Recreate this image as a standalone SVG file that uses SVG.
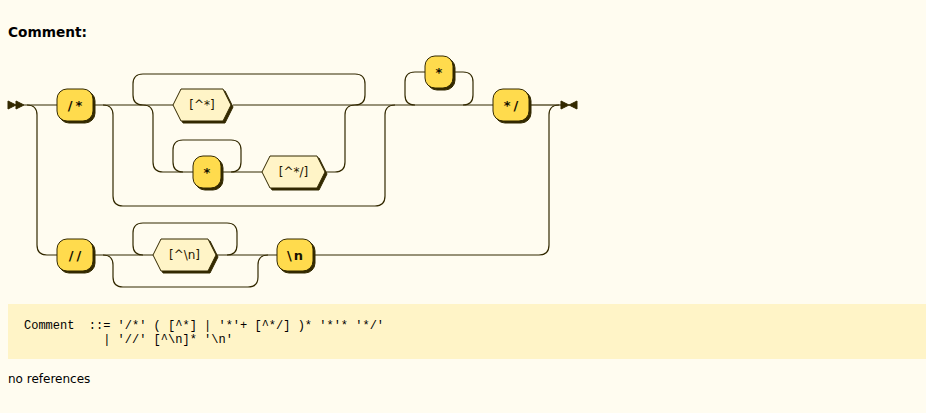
<svg xmlns="http://www.w3.org/2000/svg" width="926" height="413" viewBox="0 0 926 413">
  <style>
    .line { fill: none; stroke: #332900; stroke-width: 1.2; }
    .shadow { fill: #332900; stroke: #332900; stroke-width: 1; }
    .marker { fill: #332900; stroke: #332900; stroke-width: 1; }
    rect.terminal { fill: #FFDB4D; stroke: #332900; stroke-width: 1; }
    polygon.regexp { fill: #FFF4C7; stroke: #332900; stroke-width: 1; }
    text.terminal { font-family: "DejaVu Sans", Verdana, sans-serif; font-size: 13px; font-weight: bold; fill: #141000; text-anchor: middle; }
    text.regexp { font-family: "DejaVu Sans", Verdana, sans-serif; font-size: 12px; fill: #1F1800; text-anchor: middle; }
    .title { font-family: "DejaVu Sans", Verdana, sans-serif; font-size: 13.7px; font-weight: bold; fill: #000; }
    .ebnf { font-family: "Liberation Mono", "Courier New", monospace; font-size: 12px; fill: #000; white-space: pre; }
    .note { font-family: "DejaVu Sans", Verdana, sans-serif; font-size: 12px; fill: #000; }
  </style>

  <rect x="0" y="0" width="926" height="413" fill="#FFFCF0"/>

  <text class="title" x="8" y="37">Comment:</text>

  <!-- connectors -->
  <g id="connectors">
    <path class="line" d="M24 105 H57"/>
    <path class="line" d="M27 105 q10 0 10 10 V245 q0 10 10 10 H57"/>
    <path class="line" d="M93 105 H173"/>
    <path class="line" d="M103 105 q10 0 10 10 V196 q0 10 10 10 H375 q10 0 10 -10 V115 q0 -10 10 -10"/>
    <path class="line" d="M143 105 q-10 0 -10 -10 V84 q0 -10 10 -10 H355 q10 0 10 10 V95 q0 10 -10 10"/>
    <path class="line" d="M143 105 q10 0 10 10 V162 q0 10 10 10 H193"/>
    <path class="line" d="M183 172 q-10 0 -10 -10 V150 q0 -10 10 -10 H231 q10 0 10 10 V162 q0 10 -10 10"/>
    <path class="line" d="M221 172 H262"/>
    <path class="line" d="M325 172 H335 q10 0 10 -10 V115 q0 -10 10 -10"/>
    <path class="line" d="M233 105 H493"/>
    <!-- repeat loop for the optional '*' run -->
    <path class="line" d="M415 105 q-10 0 -10 -10 V82 q0 -10 10 -10 H425"/>
    <path class="line" d="M453 72 H463 q10 0 10 10 V95 q0 10 -10 10"/>
    <path class="line" d="M529 105 H561"/>
    <path class="line" d="M93 255 H153"/>
    <path class="line" d="M103 255 q10 0 10 10 V277 q0 10 10 10 H248 q10 0 10 -10 V265 q0 -10 10 -10"/>
    <path class="line" d="M143 255 q-10 0 -10 -10 V233 q0 -10 10 -10 H227 q10 0 10 10 V245 q0 10 -10 10"/>
    <path class="line" d="M216 255 H277"/>
    <path class="line" d="M313 255 H539 q10 0 10 -10 V115 q0 -10 10 -10"/>
  </g>

  <g id="start">
    <polygon class="marker" points="16 105 8 101 8 109"/>
    <polygon class="marker" points="24 105 16 101 16 109"/>
  </g>

  <g id="end">
    <polygon class="marker" points="569 105 561 101 561 109"/>
    <polygon class="marker" points="569 105 577 101 577 109"/>
  </g>

  <g id="t-open">
    <rect class="shadow" x="59" y="91" width="36" height="32" rx="10"/>
    <rect class="terminal" x="57" y="89" width="36" height="32" rx="10"/>
    <text class="terminal" x="76.5" y="110" letter-spacing="3">/*</text>
  </g>

  <g id="r-not-star">
    <polygon class="shadow" points="175 107 183 91 225 91 233 107 225 123 183 123"/>
    <polygon class="regexp" points="173 105 181 89 223 89 231 105 223 121 181 121"/>
    <text class="regexp" x="202" y="109">[^*]</text>
  </g>

  <g id="t-star-inner">
    <rect class="shadow" x="195" y="158" width="28" height="32" rx="10"/>
    <rect class="terminal" x="193" y="156" width="28" height="32" rx="10"/>
    <text class="terminal" x="207" y="177">*</text>
  </g>

  <g id="r-not-star-slash">
    <polygon class="shadow" points="264 174 272 158 319 158 327 174 319 190 272 190"/>
    <polygon class="regexp" points="262 172 270 156 317 156 325 172 317 188 270 188"/>
    <text class="regexp" x="293.5" y="176">[^*/]</text>
  </g>

  <g id="t-star-tail">
    <rect class="shadow" x="427" y="58" width="28" height="32" rx="10"/>
    <rect class="terminal" x="425" y="56" width="28" height="32" rx="10"/>
    <text class="terminal" x="439" y="77">*</text>
  </g>

  <g id="t-close">
    <rect class="shadow" x="495" y="91" width="36" height="32" rx="10"/>
    <rect class="terminal" x="493" y="89" width="36" height="32" rx="10"/>
    <text class="terminal" x="512.5" y="110" letter-spacing="3">*/</text>
  </g>

  <g id="t-line">
    <rect class="shadow" x="59" y="241" width="36" height="32" rx="10"/>
    <rect class="terminal" x="57" y="239" width="36" height="32" rx="10"/>
    <text class="terminal" x="76.5" y="260" letter-spacing="3">//</text>
  </g>

  <g id="r-not-newline">
    <polygon class="shadow" points="155 257 163 241 210 241 218 257 210 273 163 273"/>
    <polygon class="regexp" points="153 255 161 239 208 239 216 255 208 271 161 271"/>
    <text class="regexp" x="184.5" y="259">[^\n]</text>
  </g>

  <g id="t-newline">
    <rect class="shadow" x="279" y="241" width="36" height="32" rx="10"/>
    <rect class="terminal" x="277" y="239" width="36" height="32" rx="10"/>
    <text class="terminal" x="296" y="260" letter-spacing="2">\n</text>
  </g>

  <!-- EBNF source of the rule -->
  <rect x="8" y="304" width="918" height="55" fill="#FFF4C7"/>
  <text class="ebnf" x="24" y="329">Comment  ::= '/*' ( [^*] | '*'+ [^*/] )* '*'* '*/'</text>
  <text class="ebnf" x="24" y="343">           | '//' [^\n]* '\n'</text>

  <text class="note" x="8" y="383">no references</text>
</svg>
